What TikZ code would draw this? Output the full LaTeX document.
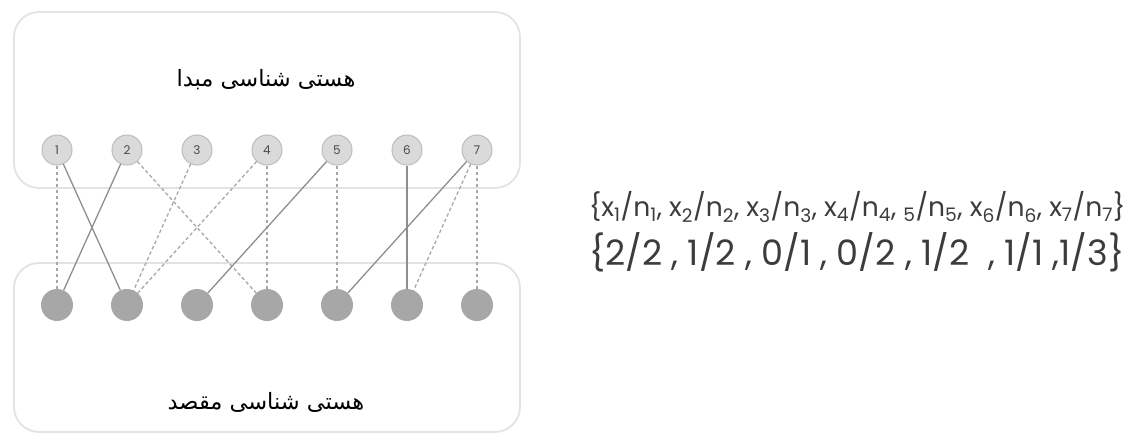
\documentclass[tikz,border=0pt]{standalone}
\usepackage{fontspec}
\setmainfont{Poppins}
\newfontfamily\arabicfont[Script=Arabic]{DejaVu Sans}
\TeXXeTstate=1
\definecolor{boxedge}{HTML}{E3E3E3}
\definecolor{srcfill}{HTML}{DADADA}
\definecolor{srcedge}{HTML}{BDBDBD}
\definecolor{dstfill}{HTML}{A7A7A7}
\definecolor{linkgray}{HTML}{8E8E8E}
\definecolor{dashgray}{HTML}{A8A8A8}
\definecolor{labelgray}{HTML}{4A4A4A}
\definecolor{formulagray}{HTML}{3C3C3C}
\tikzset{
  panel/.style={draw=boxedge, line width=1.8pt, rounded corners=25pt, fill=white},
  srcnode/.style={circle, fill=srcfill, draw=srcedge, line width=1pt, minimum size=30pt,
    inner sep=0pt, text=labelgray, font=\fontsize{12}{12}\selectfont},
  dstnode/.style={circle, fill=dstfill, draw=none, minimum size=32pt, inner sep=0pt},
  match/.style={draw=linkgray, line width=1.3pt},
  guess/.style={draw=dashgray, line width=1.3pt, dash pattern=on 3.5pt off 2.5pt},
  title/.style={font=\arabicfont\fontsize{22.5}{22.5}\selectfont, text=black},
  ratio/.style={anchor=west, text=formulagray, inner sep=0pt},
}
\begin{document}
\begin{tikzpicture}[x=1pt, y=-1pt]
  \useasboundingbox (0,0) rectangle (1132,439);
  % the two ontologies
  \draw[panel] (14,12) rectangle (520,188);
  \draw[panel] (14,263) rectangle (520,432);
  \node[title] (srctitle) at (266,80) {\beginR هستی شناسی مبدا\endR};
  \node[title] (dsttitle) at (266,402) {\beginR هستی شناسی مقصد\endR};
  % concepts
  \foreach \i in {1,...,7} {
    \node[srcnode] (t\i) at ({57+70*(\i-1)},150) {\i};
    \node[dstnode] (b\i) at ({57+70*(\i-1)},305) {};
  }
  % correspondences
  \draw[guess] (t1) -- (b1);
  \draw[match] (t1) -- (b2);
  \draw[match] (t2) -- (b1);
  \draw[guess] (t2) -- (b4);
  \draw[guess] (t3) -- (b2);
  \draw[guess] (t4) -- (b2);
  \draw[guess] (t4) -- (b4);
  \draw[match] (t5) -- (b3);
  \draw[guess] (t5) -- (b5);
  \draw[match] (t6) -- (b6);
  \draw[match] (t7) -- (b5);
  \draw[guess] (t7) -- (b6);
  \draw[guess] (t7) -- (b7);
  % ratios
  \node[ratio, font=\fontsize{26.6}{26.6}\selectfont] (ratios) at (589,207)
    {\{x\textsubscript{1}/n\textsubscript{1}, x\textsubscript{2}/n\textsubscript{2}, x\textsubscript{3}/n\textsubscript{3}, x\textsubscript{4}/n\textsubscript{4}, \textsubscript{5}/n\textsubscript{5}, x\textsubscript{6}/n\textsubscript{6}, x\textsubscript{7}/n\textsubscript{7}\}};
  \node[ratio, font=\fontsize{35}{35}\selectfont] (values) at (589,252)
    {\{2/2 , 1/2 , 0/1 , 0/2 , 1/2 \ , 1/1 ,1/3\}};
\end{tikzpicture}
\end{document}
